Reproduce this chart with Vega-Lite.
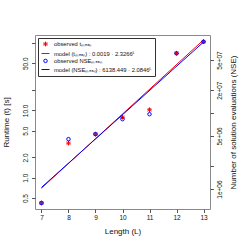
{
  "$schema": "https://vega.github.io/schema/vega-lite/v6.json",
  "autosize": "none",
  "width": 175,
  "height": 174,
  "padding": {"left": 35, "top": 35, "right": 35, "bottom": 36},
  "background": "white",
  "config": {
    "font": "Liberation Sans",
    "view": {"stroke": "#8a8a8a", "strokeWidth": 1},
    "axis": {"domain": false, "grid": false, "tickColor": "#555", "tickSize": 3.5, "labelFontSize": 6.5, "labelColor": "#111", "titleColor": "#111", "titleFontWeight": "normal", "titleFontSize": 8},
    "legend": {"labelFontSize": 5.8, "labelColor": "#111", "padding": 3, "rowPadding": 0, "strokeColor": "#333", "fillColor": "white", "labelLimit": 300, "symbolStrokeWidth": 1, "labelOffset": 4, "title": null}
  },
  "datasets": {
    "d": [
      {"L": 7, "series": "observed tₘₑₐₙ", "value": 0.422},
      {"L": 8, "series": "observed tₘₑₐₙ", "value": 3.27},
      {"L": 9, "series": "observed tₘₑₐₙ", "value": 4.44},
      {"L": 10, "series": "observed tₘₑₐₙ", "value": 7.93},
      {"L": 11, "series": "observed tₘₑₐₙ", "value": 10.2},
      {"L": 12, "series": "observed tₘₑₐₙ", "value": 70.4},
      {"L": 13, "series": "observed tₘₑₐₙ", "value": 104.6},
      {"L": 7, "series": "model (tₘₑₐₙ) : 0.0019 · 2.3266ᴸ", "value": 0.701},
      {"L": 13, "series": "model (tₘₑₐₙ) : 0.0019 · 2.3266ᴸ", "value": 111.2},
      {"L": 7, "series": "observed NSEₘₑₐₙ", "value": 655000},
      {"L": 8, "series": "observed NSEₘₑₐₙ", "value": 4540000},
      {"L": 9, "series": "observed NSEₘₑₐₙ", "value": 5280000},
      {"L": 10, "series": "observed NSEₘₑₐₙ", "value": 8310000},
      {"L": 11, "series": "observed NSEₘₑₐₙ", "value": 9670000},
      {"L": 12, "series": "observed NSEₘₑₐₙ", "value": 61200000},
      {"L": 13, "series": "observed NSEₘₑₐₙ", "value": 87000000},
      {"L": 7, "series": "model (NSEₘₑₐₙ) : 6138.449 · 2.0846ᴸ", "value": 1050000},
      {"L": 13, "series": "model (NSEₘₑₐₙ) : 6138.449 · 2.0846ᴸ", "value": 86170000}
    ]
  },
  "data": {"name": "d"},
  "layer": [
    {
      "encoding": {
        "x": {"field": "L", "type": "quantitative", "scale": {"domain": [6.76, 13.24], "nice": false, "zero": false},
              "axis": {"values": [7, 8, 9, 10, 11, 12, 13], "title": "Length (L)", "labelPadding": 2, "titlePadding": 6}},
        "y": {"field": "value", "type": "quantitative", "scale": {"type": "log", "domain": [0.344, 131.4], "nice": false, "zero": false},
              "axis": {"orient": "left", "values": [0.5, 1, 2, 5, 10, 20, 50, 100],
                       "labelExpr": "datum.value == 20 || datum.value == 100 ? '' : format(datum.value, '.1f')",
                       "labelAngle": 270, "labelAlign": "center", "labelBaseline": "bottom", "labelPadding": 3,
                       "title": "Runtime (t) [s]", "titlePadding": 12}}
      },
      "layer": [
        {"transform": [{"filter": {"field": "series", "equal": "observed tₘₑₐₙ"}}],
         "mark": {"type": "point", "filled": false, "strokeWidth": 1, "opacity": 1},
         "encoding": {
           "color": {"field": "series", "type": "nominal",
                     "scale": {"domain": ["observed tₘₑₐₙ", "model (tₘₑₐₙ) : 0.0019 · 2.3266ᴸ", "observed NSEₘₑₐₙ", "model (NSEₘₑₐₙ) : 6138.449 · 2.0846ᴸ"], "range": ["#ff0000", "#ff0000", "#0000ff", "#0000ff"]},
                     "legend": {"orient": "none", "legendX": 3, "legendY": 3}},
           "shape": {"field": "series", "type": "nominal",
                     "scale": {"domain": ["observed tₘₑₐₙ", "model (tₘₑₐₙ) : 0.0019 · 2.3266ᴸ", "observed NSEₘₑₐₙ", "model (NSEₘₑₐₙ) : 6138.449 · 2.0846ᴸ"], "range": ["M-1,0L1,0M0,-1L0,1M-0.71,-0.71L0.71,0.71M-0.71,0.71L0.71,-0.71", "stroke", "circle", "stroke"]},
                     "legend": {"orient": "none", "legendX": 3, "legendY": 3}},
           "size": {"field": "series", "type": "nominal",
                     "scale": {"type": "ordinal", "domain": ["observed tₘₑₐₙ", "model (tₘₑₐₙ) : 0.0019 · 2.3266ᴸ", "observed NSEₘₑₐₙ", "model (NSEₘₑₐₙ) : 6138.449 · 2.0846ᴸ"], "range": [22, 64, 12, 64]},
                     "legend": {"orient": "none", "legendX": 3, "legendY": 3}}
         }},
        {"transform": [{"filter": {"field": "series", "equal": "model (tₘₑₐₙ) : 0.0019 · 2.3266ᴸ"}}],
         "mark": {"type": "line", "color": "#ff0000", "strokeWidth": 1},
         "encoding": {}}
      ]
    },
    {
      "encoding": {
        "x": {"field": "L", "type": "quantitative", "scale": {"domain": [6.76, 13.24], "nice": false, "zero": false},
              "axis": {"values": [7, 8, 9, 10, 11, 12, 13], "title": "Length (L)", "labelPadding": 2, "titlePadding": 6}},
        "y": {"field": "value", "type": "quantitative", "scale": {"type": "log", "domain": [546000, 106700000], "nice": false, "zero": false},
              "axis": {"orient": "right", "values": [1000000, 2000000, 5000000, 10000000, 20000000, 50000000],
                       "labelExpr": "datum.value == 1000000 ? '1e+06' : datum.value == 5000000 ? '5e+06' : datum.value == 20000000 ? '2e+07' : datum.value == 50000000 ? '5e+07' : ''",
                       "labelAngle": 270, "labelAlign": "center", "labelBaseline": "top", "labelPadding": 3,
                       "title": "Number of solution evaluations (NSE)", "titleAngle": 270, "titleBaseline": "top", "titlePadding": 6, "titleFontSize": 8}}
      },
      "layer": [
        {"transform": [{"filter": {"field": "series", "equal": "observed NSEₘₑₐₙ"}}],
         "mark": {"type": "point", "filled": false, "strokeWidth": 1, "opacity": 1},
         "encoding": {
           "color": {"field": "series", "type": "nominal",
                     "scale": {"domain": ["observed tₘₑₐₙ", "model (tₘₑₐₙ) : 0.0019 · 2.3266ᴸ", "observed NSEₘₑₐₙ", "model (NSEₘₑₐₙ) : 6138.449 · 2.0846ᴸ"], "range": ["#ff0000", "#ff0000", "#0000ff", "#0000ff"]},
                     "legend": {"orient": "none", "legendX": 3, "legendY": 3}},
           "shape": {"field": "series", "type": "nominal",
                     "scale": {"domain": ["observed tₘₑₐₙ", "model (tₘₑₐₙ) : 0.0019 · 2.3266ᴸ", "observed NSEₘₑₐₙ", "model (NSEₘₑₐₙ) : 6138.449 · 2.0846ᴸ"], "range": ["M-1,0L1,0M0,-1L0,1M-0.71,-0.71L0.71,0.71M-0.71,0.71L0.71,-0.71", "stroke", "circle", "stroke"]},
                     "legend": {"orient": "none", "legendX": 3, "legendY": 3}},
           "size": {"field": "series", "type": "nominal",
                     "scale": {"type": "ordinal", "domain": ["observed tₘₑₐₙ", "model (tₘₑₐₙ) : 0.0019 · 2.3266ᴸ", "observed NSEₘₑₐₙ", "model (NSEₘₑₐₙ) : 6138.449 · 2.0846ᴸ"], "range": [22, 64, 12, 64]},
                     "legend": {"orient": "none", "legendX": 3, "legendY": 3}}
         }},
        {"transform": [{"filter": {"field": "series", "equal": "model (NSEₘₑₐₙ) : 6138.449 · 2.0846ᴸ"}}],
         "mark": {"type": "line", "color": "#0000ff", "strokeWidth": 1},
         "encoding": {}}
      ]
    }
  ],
  "resolve": {"scale": {"y": "independent"}}
}
